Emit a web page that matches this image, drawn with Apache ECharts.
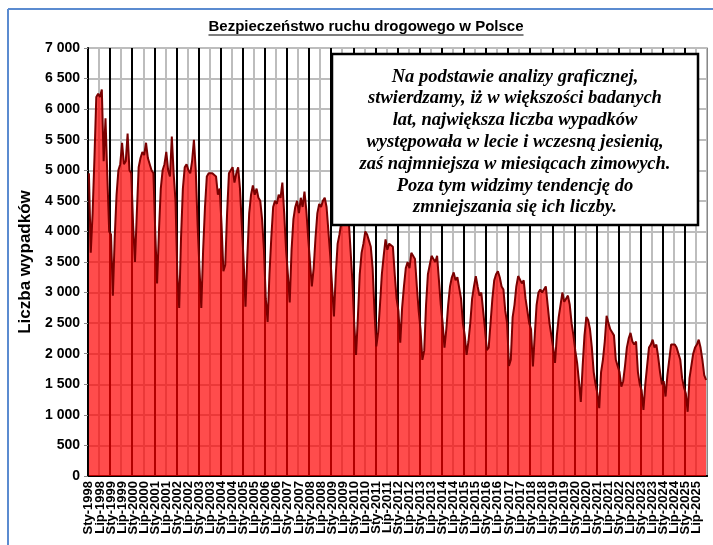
<!DOCTYPE html>
<html>
<head>
<meta charset="utf-8">
<script src="https://cdn.jsdelivr.net/npm/echarts@6/dist/echarts.min.js"></script>
<style>
  html, body { margin: 0; padding: 0; background: #fff; }
  #chart { width: 713px; height: 545px; }
</style>
</head>
<body>
<div id="chart"></div>
<script>
// miesiące (etykiety osi X)
const months = ['Sty', 'Lut', 'Mar', 'Kwi', 'Maj', 'Cze', 'Lip', 'Sie', 'Wrz', 'Paź', 'Lis', 'Gru'];
const years = [1998, 1999, 2000, 2001, 2002, 2003, 2004, 2005, 2006, 2007, 2008, 2009, 2010, 2011,
  2012, 2013, 2014, 2015, 2016, 2017, 2018, 2019, 2020, 2021, 2022, 2023, 2024, 2025];

// liczba wypadków, miesięcznie
const y1998 = [4950, 3650, 4300, 5200, 6200, 6250, 6200, 6320, 5150, 5850, 4900, 4000];
const y1999 = [3950, 2950, 3900, 4600, 5000, 5100, 5450, 5100, 5150, 5600, 5000, 4950];
const y2000 = [4100, 3500, 4300, 5050, 5200, 5300, 5250, 5450, 5200, 5100, 5000, 4950];
const y2001 = [4000, 3150, 4000, 4700, 5000, 5100, 5300, 5000, 4900, 5550, 4950, 4500];
const y2002 = [3300, 2750, 3900, 4700, 5050, 5100, 5000, 4950, 5150, 5500, 5000, 4100];
const y2003 = [3400, 2750, 3700, 4400, 4900, 4950, 4950, 4950, 4950, 4900, 4600, 4700];
const y2004 = [4100, 3350, 3450, 4300, 4950, 5000, 5050, 4800, 4950, 5050, 4700, 4100];
const y2005 = [3500, 2770, 3600, 4300, 4600, 4750, 4600, 4700, 4550, 4500, 4200, 3700];
const y2006 = [2900, 2520, 3300, 3900, 4400, 4500, 4450, 4600, 4550, 4800, 4300, 3700];
const y2007 = [3300, 2840, 3700, 4200, 4400, 4500, 4300, 4550, 4400, 4650, 4350, 3900];
const y2008 = [3500, 3100, 3400, 3900, 4300, 4450, 4400, 4500, 4550, 4400, 4000, 3600];
const y2009 = [3100, 2610, 3300, 3800, 3950, 4150, 4300, 4400, 4300, 4200, 3700, 3200];
const y2010 = [2500, 1980, 2600, 3300, 3650, 3800, 4000, 3950, 3850, 3750, 3400, 2700];
const y2011 = [2120, 2350, 2800, 3300, 3600, 3870, 3700, 3800, 3820, 3750, 3300, 2900];
const y2012 = [2700, 2180, 2750, 3100, 3400, 3500, 3400, 3650, 3650, 3550, 3100, 2700];
const y2013 = [2400, 1900, 2050, 2800, 3300, 3450, 3600, 3550, 3500, 3600, 3200, 2800];
const y2014 = [2500, 2100, 2400, 2800, 3100, 3250, 3330, 3200, 3250, 3250, 2900, 2500];
const y2015 = [2300, 1980, 2200, 2500, 2900, 3100, 3270, 3100, 2950, 3000, 2700, 2400];
const y2016 = [2060, 2100, 2500, 2900, 3200, 3300, 3350, 3250, 3100, 3050, 2700, 2500];
const y2017 = [1800, 1900, 2600, 2800, 3100, 3270, 3250, 3150, 3200, 2900, 2700, 2500];
const y2018 = [2400, 1790, 2300, 2800, 3000, 3050, 3000, 3050, 3100, 2800, 2500, 2300];
const y2019 = [2100, 1850, 2300, 2600, 2800, 3000, 2850, 2900, 2950, 2800, 2500, 2300];
const y2020 = [2050, 1850, 1550, 1210, 1800, 2300, 2600, 2550, 2400, 2100, 1700, 1500];
const y2021 = [1350, 1110, 1700, 1900, 2200, 2620, 2500, 2400, 2350, 2300, 1900, 1800];
const y2022 = [1700, 1460, 1550, 1800, 2100, 2250, 2340, 2200, 2150, 2200, 1700, 1500];
const y2023 = [1400, 1080, 1500, 1800, 2100, 2150, 2230, 2100, 2150, 1950, 1700, 1500];
const y2024 = [1550, 1300, 1650, 1900, 2150, 2180, 2150, 2100, 2100, 1900, 1600, 1450];
const y2025 = [1350, 1050, 1600, 1800, 2000, 2100, 2150, 2230, 2100, 1900, 1650, 1570];

const wypadki = [].concat(y1998, y1999, y2000, y2001, y2002, y2003, y2004, y2005, y2006, y2007,
  y2008, y2009, y2010, y2011, y2012, y2013, y2014, y2015, y2016, y2017, y2018, y2019, y2020,
  y2021, y2022, y2023, y2024, y2025);

const categories = [];
years.forEach(y => months.forEach(m => categories.push(m + '-' + y)));

const titleText = 'Bezpieczeństwo ruchu drogowego w Polsce';
const boxLines = [
  'Na podstawie analizy graficznej,',
  'stwierdzamy, iż w większości badanych',
  'lat, największa liczba wypadków',
  'występowała w lecie i wczesną jesienią,',
  'zaś najmniejsza w miesiącach zimowych.',
  'Poza tym widzimy tendencję do',
  'zmniejszania się ich liczby.'
];

const sans = '"Liberation Sans", Arial, sans-serif';
const serif = '"Liberation Serif", "Times New Roman", serif';

// szerokość tytułu do podkreślenia
const ctx = document.createElement('canvas').getContext('2d');
ctx.font = 'bold 15px ' + sans;
const titleW = ctx.measureText(titleText).width;
const titleX = 366;

const fmt = v => v >= 1000 ? Math.floor(v / 1000) + ' ' + String(v % 1000).padStart(3, '0') : String(v);

const xLabel = {
  rotate: 90,
  margin: 5,
  fontSize: 13,
  fontWeight: 'bold',
  color: '#000',
  fontFamily: sans
};

const myChart = echarts.init(document.getElementById('chart'));
const option = {
  animation: false,
  grid: { left: 88, right: 6, top: 48, bottom: 69 },
  xAxis: [
    {
      // styczeń: etykiety + czarne linie siatki
      type: 'category',
      data: categories,
      boundaryGap: true,
      axisLine: { lineStyle: { color: '#000', width: 2 } },
      axisTick: { show: false },
      axisLabel: Object.assign({ interval: (i) => i % 12 === 0 }, xLabel),
      splitLine: { show: true, interval: (i) => i % 12 === 0, lineStyle: { color: '#000', width: 2 } }
    },
    {
      // górna ramka + szare linie siatki (lipiec)
      type: 'category',
      data: categories,
      position: 'top',
      boundaryGap: true,
      axisLine: { show: true, lineStyle: { color: '#000', width: 2 } },
      axisTick: { show: false },
      axisLabel: { show: false },
      splitLine: { show: true, interval: (i) => i % 12 === 6, lineStyle: { color: '#bdbdbd', width: 2 } }
    },
    {
      // lipiec: etykiety
      type: 'category',
      data: categories,
      position: 'bottom',
      boundaryGap: true,
      axisLine: { show: false },
      axisTick: { show: false },
      axisLabel: Object.assign({ interval: (i) => i % 12 === 6 }, xLabel),
      splitLine: { show: false }
    }
  ],
  yAxis: [
    {
      type: 'value',
      min: 0,
      max: 7000,
      interval: 500,
      name: 'Liczba wypadków',
      nameLocation: 'middle',
      nameGap: 52,
      nameTextStyle: { fontSize: 17, fontWeight: 'bold', color: '#000', fontFamily: sans },
      axisLine: { show: true, lineStyle: { color: '#000', width: 2 } },
      axisTick: { show: true, length: 4, lineStyle: { color: '#888', width: 1 } },
      axisLabel: { formatter: fmt, fontSize: 14, fontWeight: 'bold', color: '#000', margin: 8, fontFamily: sans },
      splitLine: { show: true, lineStyle: { color: '#bdbdbd', width: 2 } }
    },
    {
      type: 'value',
      position: 'right',
      min: 0,
      max: 7000,
      interval: 500,
      axisLine: { show: true, lineStyle: { color: '#888', width: 1 } },
      axisTick: { show: false },
      axisLabel: { show: false },
      splitLine: { show: false }
    }
  ],
  series: [
    {
      type: 'line',
      data: wypadki,
      xAxisIndex: 0,
      yAxisIndex: 0,
      symbol: 'none',
      lineStyle: { color: '#7a0000', width: 2 },
      areaStyle: { color: '#ff0000', opacity: 0.7 }
    }
  ],
  graphic: [
    { type: 'line', z: 100, shape: { x1: 8, y1: 9, x2: 713, y2: 9 }, style: { stroke: '#5b8bd0', lineWidth: 2 } },
    { type: 'line', z: 100, shape: { x1: 8, y1: 9, x2: 8, y2: 545 }, style: { stroke: '#5b8bd0', lineWidth: 2 } },
    {
      type: 'text', z: 100, left: titleX - titleW / 2, top: 19,
      style: { text: titleText, font: 'bold 15px ' + sans, fill: '#000' }
    },
    {
      type: 'line', z: 100,
      shape: { x1: titleX - titleW / 2, y1: 35, x2: titleX + titleW / 2, y2: 35 },
      style: { stroke: '#000', lineWidth: 1.2 }
    },
    {
      type: 'rect', z: 100,
      shape: { x: 332, y: 54, width: 366, height: 171 },
      style: { fill: '#fff', stroke: '#000', lineWidth: 2.5 }
    },
    {
      type: 'text', z: 101, x: 515, y: 66,
      style: {
        text: boxLines.join('\n'),
        font: 'italic bold 18.5px ' + serif,
        fill: '#000',
        align: 'center',
        verticalAlign: 'top',
        lineHeight: 21.8
      }
    }
  ]
};
myChart.setOption(option);
</script>
</body>
</html>
